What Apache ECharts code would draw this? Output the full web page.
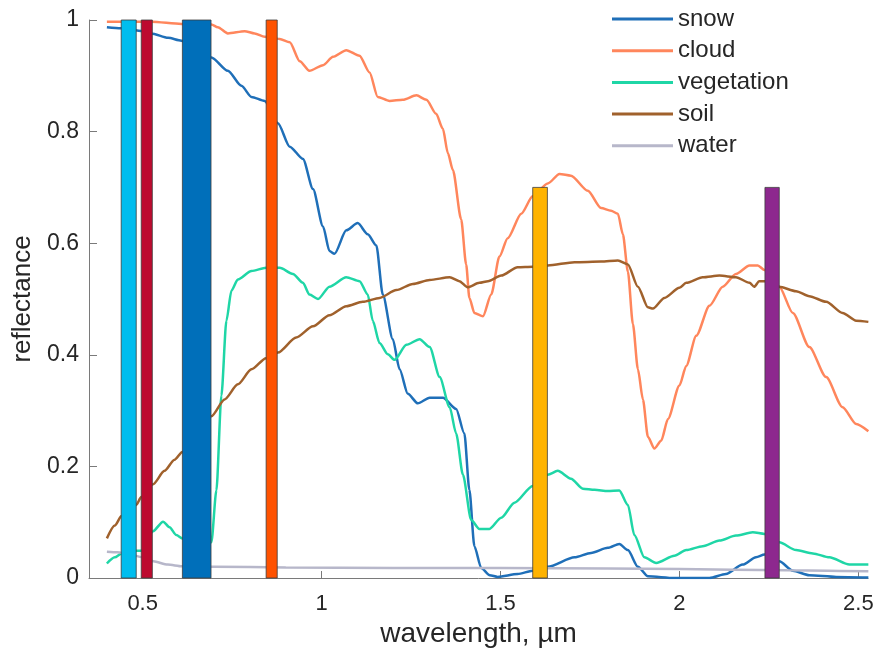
<!DOCTYPE html>
<html>
<head>
<meta charset="utf-8">
<script src="https://cdn.jsdelivr.net/npm/echarts@6/dist/echarts.min.js"></script>
<style>
html,body{margin:0;padding:0;background:#fff;}
#chart{width:879px;height:654px;}
</style>
</head>
<body>
<div id="chart"></div>
<script>
// ---------- data ----------
const seriesNames = ['snow', 'cloud', 'vegetation', 'soil', 'water'];

const snowWl = [0.40,0.44,0.50,0.524,0.571,0.608,0.65,0.692,0.738,0.776,0.804,0.841,0.878,0.911,0.948,0.976,1.004,1.022,1.036,1.069,1.101,1.129,1.153,1.171,1.199,1.218,1.241,1.269,1.302,1.339,1.376,1.399,1.413,1.427,1.446,1.47,1.492,1.548,1.59,1.632,1.707,1.753,1.800,1.832,1.856,1.884,1.912,1.986,2.084,2.130,2.177,2.214,2.238,2.26,2.279,2.317,2.363,2.438,2.528];
const snowRefl = [0.987,0.985,0.980,0.976,0.968,0.963,0.950,0.933,0.909,0.882,0.862,0.855,0.815,0.773,0.751,0.697,0.630,0.586,0.581,0.623,0.636,0.616,0.596,0.508,0.428,0.374,0.330,0.313,0.323,0.323,0.303,0.259,0.158,0.057,0.018,0.005,0.002,0.007,0.013,0.020,0.037,0.045,0.054,0.061,0.050,0.020,0.003,0.0,0.0,0.007,0.024,0.037,0.042,0.040,0.030,0.013,0.005,0.002,0.001];

const cloudWl = [0.40,0.524,0.608,0.692,0.710,0.738,0.785,0.813,0.841,0.883,0.911,0.939,0.966,1.004,1.032,1.069,1.106,1.134,1.157,1.190,1.227,1.265,1.293,1.320,1.339,1.353,1.367,1.390,1.404,1.413,1.427,1.451,1.474,1.497,1.520,1.558,1.590,1.632,1.665,1.697,1.744,1.781,1.809,1.828,1.842,1.856,1.870,1.884,1.898,1.912,1.930,1.949,1.968,2.0,2.019,2.047,2.084,2.121,2.158,2.196,2.219,2.238,2.279,2.317,2.363,2.410,2.456,2.494,2.528];
const cloudRefl = [0.997,0.997,0.993,0.992,0.987,0.976,0.980,0.976,0.970,0.966,0.960,0.926,0.909,0.919,0.934,0.946,0.936,0.906,0.862,0.855,0.857,0.865,0.857,0.832,0.805,0.761,0.731,0.643,0.562,0.502,0.475,0.469,0.508,0.576,0.609,0.653,0.684,0.707,0.724,0.721,0.694,0.663,0.658,0.653,0.616,0.549,0.455,0.374,0.320,0.253,0.232,0.246,0.285,0.345,0.380,0.434,0.488,0.522,0.545,0.560,0.560,0.552,0.522,0.475,0.414,0.360,0.306,0.276,0.263];

const vegWl = [0.40,0.422,0.441,0.482,0.496,0.529,0.557,0.575,0.594,0.611,0.65,0.692,0.706,0.720,0.734,0.748,0.766,0.804,0.845,0.883,0.920,0.948,0.966,0.990,1.022,1.069,1.106,1.129,1.143,1.162,1.185,1.204,1.237,1.274,1.302,1.330,1.358,1.376,1.395,1.418,1.441,1.469,1.502,1.539,1.590,1.632,1.660,1.697,1.730,1.763,1.800,1.832,1.856,1.874,1.902,1.935,1.986,2.019,2.065,2.112,2.158,2.205,2.238,2.279,2.326,2.373,2.419,2.475,2.528];
const vegRefl = [0.026,0.037,0.044,0.049,0.049,0.084,0.101,0.091,0.077,0.071,0.067,0.064,0.157,0.327,0.461,0.515,0.535,0.550,0.556,0.556,0.545,0.529,0.508,0.500,0.522,0.539,0.532,0.508,0.461,0.421,0.401,0.391,0.418,0.428,0.414,0.360,0.306,0.259,0.185,0.104,0.088,0.088,0.108,0.135,0.165,0.185,0.192,0.178,0.160,0.158,0.156,0.157,0.131,0.077,0.037,0.027,0.040,0.050,0.057,0.067,0.076,0.082,0.079,0.064,0.050,0.044,0.037,0.024,0.024];

const soilWl = [0.40,0.422,0.441,0.482,0.496,0.529,0.561,0.589,0.611,0.692,0.729,0.766,0.804,0.845,0.878,0.929,0.976,1.022,1.069,1.115,1.162,1.209,1.255,1.302,1.358,1.385,1.408,1.441,1.465,1.502,1.548,1.590,1.632,1.707,1.781,1.828,1.856,1.884,1.912,1.926,1.958,2.0,2.019,2.065,2.112,2.158,2.196,2.209,2.223,2.238,2.279,2.326,2.363,2.410,2.456,2.494,2.528];
const soilRefl = [0.071,0.094,0.111,0.131,0.145,0.168,0.192,0.212,0.226,0.290,0.320,0.347,0.374,0.394,0.404,0.431,0.451,0.471,0.487,0.495,0.502,0.516,0.527,0.534,0.539,0.532,0.521,0.529,0.532,0.542,0.557,0.558,0.560,0.566,0.567,0.569,0.562,0.522,0.485,0.483,0.502,0.520,0.529,0.539,0.542,0.539,0.529,0.522,0.532,0.532,0.522,0.514,0.505,0.495,0.475,0.461,0.459];

const waterWl = [0.40,0.43,0.46,0.50,0.53,0.57,0.61,0.70,0.90,1.2,1.5,1.8,2.0,2.3,2.528];
const waterRefl = [0.047,0.046,0.043,0.037,0.030,0.024,0.021,0.020,0.019,0.018,0.018,0.017,0.016,0.014,0.012];

// spectral bands (wavelength range, height)
const bandLo  = [0.440, 0.496, 0.611, 0.845, 1.590, 2.239];
const bandHi  = [0.482, 0.527, 0.691, 0.876, 1.631, 2.279];
const bandTop = [1.0, 1.0, 1.0, 1.0, 0.7, 0.7];

const xTicks = [0.5, 1, 1.5, 2, 2.5];

// ---------- styles ----------
const lineColors = ['#1f6fb8', '#ff865c', '#1fd6a6', '#a0612c', '#b7b7ca'];
const bandColors = ['#00bdee', '#bd0a2f', '#006fba', '#ff5200', '#ffb300', '#8d288e'];

function pairs(xs, ys) { return xs.map((x, i) => [x, ys[i]]); }
const curveData = [pairs(snowWl, snowRefl), pairs(cloudWl, cloudRefl), pairs(vegWl, vegRefl), pairs(soilWl, soilRefl), pairs(waterWl, waterRefl)];

const font = 'Liberation Sans, Arial, Helvetica, sans-serif';
const axisColor = '#7a7a7a';
const textColor = '#262626';

const lineSeries = seriesNames.map((n, i) => ({
  name: n,
  type: 'line',
  data: curveData[i],
  showSymbol: false,
  smooth: 0.25,
  smoothMonotone: 'x',
  lineStyle: { color: lineColors[i], width: 2.5 },
  itemStyle: { color: lineColors[i] },
  z: 2,
  animation: false
}));

const bandSeries = {
  type: 'custom',
  z: 5,
  animation: false,
  data: bandLo.map((lo, i) => [lo, bandHi[i], bandTop[i]]),
  encode: { x: [0, 1], y: 2 },
  renderItem: function (params, api) {
    const p0 = api.coord([api.value(0), api.value(2)]);
    const p1 = api.coord([api.value(1), 0]);
    return {
      type: 'rect',
      shape: { x: p0[0], y: p0[1], width: p1[0] - p0[0], height: p1[1] - p0[1] },
      style: { fill: bandColors[params.dataIndex], stroke: '#3c3c3c', lineWidth: 0.8 }
    };
  }
};

const chart = echarts.init(document.getElementById('chart'), null, { renderer: 'canvas' });
chart.setOption({
  animation: false,
  backgroundColor: '#ffffff',
  grid: { left: 89, right: 11, top: 20, bottom: 76, containLabel: false },
  legend: {
    data: seriesNames,
    orient: 'vertical',
    left: 607,
    top: 2,
    itemWidth: 61,
    itemHeight: 3,
    itemGap: 7.7,
    icon: 'rect',
    textStyle: { fontSize: 24, color: textColor, fontFamily: font, lineHeight: 24 }
  },
  xAxis: {
    type: 'value',
    min: 0.35,
    max: 2.527,
    name: 'wavelength, µm',
    nameLocation: 'middle',
    nameGap: 40,
    nameTextStyle: { fontSize: 28, color: textColor, fontFamily: font },
    axisLine: { show: true, lineStyle: { color: axisColor, width: 1 } },
    axisTick: { show: true, inside: true, length: 7, customValues: xTicks, lineStyle: { color: axisColor } },
    axisLabel: { customValues: xTicks, fontSize: 22, color: textColor, fontFamily: font, margin: 15 },
    splitLine: { show: false }
  },
  yAxis: {
    type: 'value',
    min: 0,
    max: 1,
    interval: 0.2,
    name: 'reflectance',
    nameLocation: 'middle',
    nameGap: 53,
    nameTextStyle: { fontSize: 26, color: textColor, fontFamily: font },
    axisLine: { show: true, lineStyle: { color: axisColor, width: 1 } },
    axisTick: { show: true, inside: true, length: 8, lineStyle: { color: axisColor } },
    axisLabel: { fontSize: 23, color: textColor, fontFamily: font, margin: 10 },
    splitLine: { show: false }
  },
  series: lineSeries.concat([bandSeries])
});
</script>
</body>
</html>
